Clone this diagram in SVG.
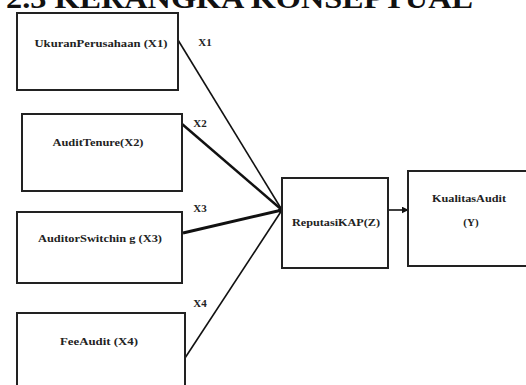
<svg xmlns="http://www.w3.org/2000/svg" width="526" height="385" viewBox="0 0 526 385">
<defs>
<style>
.box{fill:#fff;stroke:#222;stroke-width:2}
.t{font-family:"Liberation Serif","Times New Roman",serif;font-weight:bold;font-size:11px;fill:#222;text-anchor:middle}
.c{stroke:#111;fill:none}
.h{font-family:"Liberation Serif","Times New Roman",serif;font-weight:bold;font-size:30px;fill:#111}
</style>
<marker id="ah" viewBox="0 0 10 10" refX="9" refY="5" markerWidth="4" markerHeight="4" orient="auto" markerUnits="userSpaceOnUse">
<path d="M0,0 L10,5 L0,10 z" fill="#111"/>
</marker>
<marker id="ah2" viewBox="0 0 10 10" refX="9" refY="5" markerWidth="7" markerHeight="7" orient="auto" markerUnits="userSpaceOnUse">
<path d="M0,0 L10,5 L0,10 z" fill="#111"/>
</marker>
</defs>
<rect width="526" height="385" fill="#fff"/>
<text class="h" x="6" y="8" textLength="467" lengthAdjust="spacingAndGlyphs">2.3    KERANGKA KONSEPTUAL</text>
<g id="connectors">
<line class="c" x1="178" y1="40" x2="282" y2="210" stroke-width="1.6" marker-end="url(#ah)"/>
<line class="c" x1="182" y1="124" x2="282" y2="210" stroke-width="2.5" marker-end="url(#ah)"/>
<line class="c" x1="183" y1="233" x2="282" y2="210" stroke-width="3" marker-end="url(#ah)"/>
<line class="c" x1="185" y1="358" x2="282" y2="210" stroke-width="1.6" marker-end="url(#ah)"/>
<line class="c" x1="388" y1="210" x2="408" y2="210" stroke-width="1.6" marker-end="url(#ah2)"/>
<text class="t" x="205" y="46">X1</text>
<text class="t" x="200" y="127">X2</text>
<text class="t" x="200" y="212">X3</text>
<text class="t" x="200" y="307">X4</text>
</g>
<g id="x1">
<rect class="box" x="17" y="13" width="161" height="77"/>
<text class="t" x="101" y="47" textLength="133" lengthAdjust="spacingAndGlyphs">UkuranPerusahaan  (X1)</text>
</g>
<g id="x2">
<rect class="box" x="22" y="114" width="160" height="77"/>
<text class="t" x="98" y="146" textLength="91" lengthAdjust="spacingAndGlyphs">AuditTenure(X2)</text>
</g>
<g id="x3">
<rect class="box" x="17" y="212" width="165" height="71"/>
<text class="t" x="100" y="242" textLength="124" lengthAdjust="spacingAndGlyphs">AuditorSwitchin g (X3)</text>
</g>
<g id="x4">
<rect class="box" x="17" y="313" width="168" height="80"/>
<text class="t" x="99" y="345" textLength="78" lengthAdjust="spacingAndGlyphs">FeeAudit  (X4)</text>
</g>
<g id="z">
<rect class="box" x="282" y="178" width="106" height="90"/>
<text class="t" x="336" y="226" textLength="88" lengthAdjust="spacingAndGlyphs">ReputasiKAP(Z)</text>
</g>
<g id="y">
<rect class="box" x="408" y="171" width="130" height="95"/>
<text class="t" x="469" y="202" textLength="74" lengthAdjust="spacingAndGlyphs">KualitasAudit</text>
<text class="t" x="471" y="226">(Y)</text>
</g>
</svg>
